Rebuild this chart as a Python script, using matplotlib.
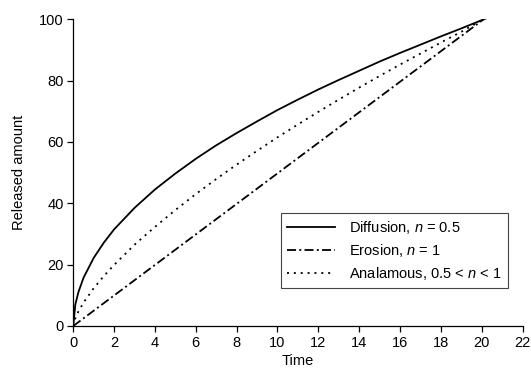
import matplotlib
matplotlib.use("Agg")
import matplotlib.pyplot as plt

plt.rcParams['font.family'] = ['Liberation Sans', 'DejaVu Sans']
plt.rcParams['mathtext.fontset'] = 'custom'
plt.rcParams['mathtext.it'] = 'Liberation Sans:italic'
plt.rcParams['mathtext.rm'] = 'Liberation Sans'

# Diffusion, n = 0.5
t_diff = [0, 0.1, 0.25, 0.5, 1, 1.5, 2, 3, 4, 5, 6, 7, 8, 9, 10, 11, 12, 13, 14, 15, 16, 17, 18, 19, 20.3]
y_diff = [0, 7.0, 11.0, 15.7, 22.2, 27.2, 31.5, 38.5, 44.5, 49.7, 54.5, 58.9, 62.9, 66.7, 70.4,
          73.8, 77.1, 80.2, 83.2, 86.2, 89.0, 91.7, 94.4, 97.0, 100.5]

# Erosion, n = 1
t_eros = [0, 20.1]
y_eros = [0, 100]

# Anomalous, 0.5 < n < 1
t_anom = [0, 0.1, 0.25, 0.5, 1, 1.5, 2, 3, 4, 5, 6, 7, 8, 9, 10, 11, 12, 13, 14, 15, 16, 17, 18, 19, 20.1]
y_anom = [0, 2.5, 4.7, 7.6, 12.3, 16.3, 19.9, 26.5, 32.3, 37.8, 43.0, 47.9, 52.6, 57.1, 61.5,
          65.7, 69.8, 73.8, 77.7, 81.5, 85.2, 88.8, 92.4, 95.9, 100]

x_ticks = list(range(0, 23, 2))
y_ticks = [0, 20, 40, 60, 80, 100]

FS = 10.5

fig = plt.figure(figsize=(5.31, 3.70), dpi=100)
ax = fig.add_axes([0.138, 0.119, 0.846, 0.829])

ax.plot(t_diff, y_diff, color='black', lw=1.3, ls='-', label='Diffusion, $n$ = 0.5')
ax.plot(t_eros, y_eros, color='black', lw=1.3, ls=(0, (5.0, 1.8, 1.1, 1.8)), label='Erosion, $n$ = 1')
ax.plot(t_anom, y_anom, color='black', lw=1.3, ls=(0, (1.1, 2.7)), label='Analamous, 0.5 < $n$ < 1')

ax.set_xlim(0, 22)
ax.set_ylim(0, 100)
ax.set_xticks(x_ticks)
ax.set_yticks(y_ticks)
ax.tick_params(direction='out', length=4, width=0.9, labelsize=FS, pad=3, colors='black')
for s in ['top', 'right']:
    ax.spines[s].set_visible(False)
for s in ['left', 'bottom']:
    ax.spines[s].set_linewidth(0.9)

ax.set_xlabel('Time', fontsize=FS, labelpad=3)
ax.set_ylabel('Released amount', fontsize=FS, labelpad=9)

leg = ax.legend(loc='lower right', bbox_to_anchor=(0.967, 0.124), fontsize=FS,
                frameon=True, fancybox=False, edgecolor='#444444', framealpha=1,
                handlelength=3.3, handletextpad=1.0, borderpad=0.4, labelspacing=0.42,
                borderaxespad=0)
leg.get_frame().set_linewidth(0.8)

fig.savefig('out.png', dpi=100)
